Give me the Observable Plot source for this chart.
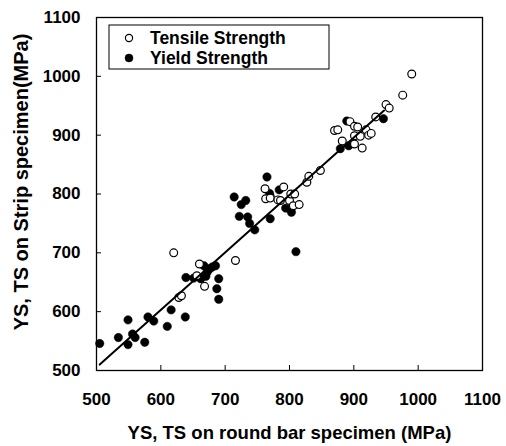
<!DOCTYPE html>
<html><head><meta charset="utf-8">
<script src="https://cdn.jsdelivr.net/npm/d3@7"></script>
<script src="https://cdn.jsdelivr.net/npm/@observablehq/plot@0.6"></script>
<style>body{margin:0;background:#fff;} #chart svg text{font-weight:bold !important;}</style>
</head><body><div id="chart"></div>
<script>
// Data (MPa)
const seriesNames = ["Tensile Strength", "Yield Strength"];
const tsX = [620,628,632,656,660,668,716,762,763,770,782,786,791,800,802,808,806,815,827,830,848,870,875,882,894,901,906,919,901,910,923,927,901,913,934,950,955,976,990];
const tsY = [700,624,627,661,681,643,687,809,792,793,790,789,812,789,800,800,780,782,820,830,840,908,909,890,923,915,914,909,899,898,900,903,885,878,931,952,946,968,1004];
const ysX = [505,534,549,549,556,560,575,580,589,610,616,638,639,651,662,667,672,676,680,685,690,687,690,670,714,725,732,722,735,738,746,765,769,770,770,784,794,803,810,879,892,889,946];
const ysY = [546,556,586,544,562,556,548,591,584,575,603,591,658,657,656,678,667,673,676,678,656,639,621,660,795,782,789,762,761,750,739,829,801,796,758,807,776,769,702,877,882,924,928];
const fitX = [505, 947];
const fitY = [510, 942];
const xTicks = [500,600,700,800,900,1000,1100];
const yTicks = [500,600,700,800,900,1000,1100];
const xTitle = "YS, TS on round bar specimen (MPa)";
const yTitle = "YS, TS on Strip specimen(MPa)";

const ts = tsX.map((x, i) => ({x, y: tsY[i]}));
const ys = ysX.map((x, i) => ({x, y: ysY[i]}));
const fit = fitX.map((x, i) => ({x, y: fitY[i]}));

const W = 506, H = 446, mL = 96, mR = 24, mT = 17, mB = 76;
const iw = W - mL - mR, ih = H - mT - mB;
const font = "'Liberation Sans', Arial, sans-serif";

const chart = Plot.plot({
  width: W, height: H,
  marginLeft: mL, marginRight: mR, marginTop: mT, marginBottom: mB,
  style: {fontFamily: font, fontSize: "17px", fontWeight: "bold", background: "#fff", color: "#000", overflow: "visible"},
  x: {domain: [500, 1100]},
  y: {domain: [500, 1100]},
  marks: [
    Plot.axisX({ticks: xTicks, tickSize: 0, tickPadding: 22, fontSize: 17, fontWeight: "bold", fill: "#000", stroke: "#000", strokeWidth: 0.35, label: null, tickFormat: d => String(d)}),
    Plot.axisY({ticks: yTicks, tickSize: 0, tickPadding: 16, fontSize: 17, fontWeight: "bold", fill: "#000", stroke: "#000", strokeWidth: 0.35, label: null, tickFormat: d => String(d)}),
    Plot.tickX(xTicks, {x: d => d, insetTop: ih - 5, stroke: "#000", strokeWidth: 1}),
    Plot.tickY(yTicks, {y: d => d, insetRight: iw - 5, stroke: "#000", strokeWidth: 1}),
    Plot.frame({stroke: "#000", strokeWidth: 1.3}),
    Plot.dot(ys, {x: "x", y: "y", r: 4.2, fill: "#000", stroke: "#000", strokeWidth: 0.5}),
    Plot.dot(ts, {x: "x", y: "y", r: 3.9, fill: "#fff", stroke: "#000", strokeWidth: 1.2}),
    Plot.line(fit, {x: "x", y: "y", stroke: "#000", strokeWidth: 2}),
    Plot.text([xTitle], {text: d => d, frameAnchor: "bottom", dy: 63, lineAnchor: "middle", textAnchor: "middle", fontSize: 18.5, fontWeight: "bold", fill: "#000"}),
    Plot.text([yTitle], {text: d => d, frameAnchor: "left", dx: -75, dy: -12, rotate: -90, lineAnchor: "middle", textAnchor: "middle", fontSize: 20, fontWeight: "bold", fill: "#000"})
  ]
});

const svg = d3.select(chart);
svg.selectAll("text").attr("font-weight", "bold");

// Legend box inside the plot area
const lg = svg.append("g").attr("class", "legend");
lg.append("rect").attr("x", 109).attr("y", 25).attr("width", 220).attr("height", 44)
  .attr("fill", "#fff").attr("stroke", "#000").attr("stroke-width", 1);
const rows = [{name: seriesNames[0], fill: "#fff", r: 3.6, sw: 1.2}, {name: seriesNames[1], fill: "#000", r: 4, sw: 0.5}];
rows.forEach((d, i) => {
  const cy = 38 + i * 20;
  lg.append("circle").attr("cx", 129).attr("cy", cy).attr("r", d.r)
    .attr("fill", d.fill).attr("stroke", "#000").attr("stroke-width", d.sw);
  lg.append("text").attr("x", 150).attr("y", cy).attr("dy", "0.35em")
    .attr("text-anchor", "start")
    .attr("font-family", font).attr("font-size", 17.5).attr("font-weight", "bold")
    .attr("fill", "#000").text(d.name);
});

document.getElementById("chart").appendChild(chart);
</script>
</body></html>
